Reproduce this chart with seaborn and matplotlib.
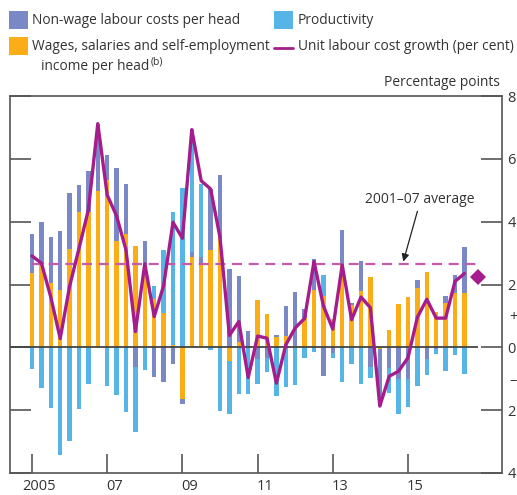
import numpy as np
import pandas as pd
import matplotlib
matplotlib.use("Agg")
import matplotlib.pyplot as plt
from matplotlib.patches import Rectangle
from matplotlib.lines import Line2D
import seaborn as sns

# Quarterly contributions to unit labour cost growth, 2005 Q1 - 2016 Q3
quarters = pd.period_range("2005Q1", "2016Q3", freq="Q").astype(str).tolist()

wages = [2.37, 2.65, 2.06, 1.83, 3.13, 4.31, 4.32, 4.98, 5.32, 3.37,
         3.61, 3.23, 2.63, 1.55, 1.08, 0.07, -1.66, 2.86, 2.62, 3.10,
         3.49, -0.42, 0.18, 0.02, 1.51, 1.07, 0.33, 0.37, 0.05, 0.93,
         1.83, 1.64, 0.90, 2.62, 1.35, 1.78, 2.25, -0.05, 0.54, 1.39,
         1.60, 1.90, 2.40, 1.11, 1.41, 1.72, 1.72]

non_wage = [1.25, 1.34, 1.46, 1.87, 1.78, 0.85, 1.29, 2.12, 0.80, 2.33,
            1.59, -0.63, 0.77, -0.95, -1.11, -0.52, -0.13, 0.19, 0.24, 1.93,
            1.99, 2.50, 2.10, 0.50, -0.37, -0.34, 0.07, 0.95, 1.72, 0.30,
            0.98, -0.92, -0.18, 1.11, 0.05, 0.97, -0.63, -1.82, -0.65, -1.00,
            -1.00, 0.24, -0.37, -0.05, 0.23, 0.59, 1.48]

productivity = [-0.69, -1.30, -1.94, -3.43, -2.98, -1.97, -1.17, 0.02, -1.24, -1.52,
                -2.06, -2.07, -0.73, 0.40, 2.01, 4.25, 5.06, 3.91, 2.34, -0.07,
                -2.03, -1.71, -1.47, -1.50, -0.81, -0.45, -1.56, -1.27, -1.19, -0.34,
                -0.15, 0.67, -0.15, -1.11, -0.52, -1.16, -0.34, 0.00, -0.79, -1.13,
                -0.91, -1.22, -0.50, -0.15, -0.74, -0.23, -0.84]

ulc_growth = [2.91, 2.68, 1.60, 0.28, 1.94, 3.15, 4.38, 7.12, 4.85, 4.18,
              3.10, 0.50, 2.66, 0.98, 1.96, 3.98, 3.47, 6.93, 5.30, 5.04,
              3.50, 0.38, 0.82, -0.96, 0.36, 0.29, -1.14, 0.08, 0.62, 0.92,
              2.73, 1.32, 0.58, 2.62, 0.88, 1.60, 1.26, -1.87, -0.92, -0.76,
              -0.33, 0.96, 1.53, 0.93, 0.93, 2.10, 2.35]

average_2001_07 = 2.66
projection_q4 = 2.25

year_labels = ["2005", "07", "09", "11", "13", "15"]

# Colours
C_NONWAGE = "#7b88c6"
C_PROD = "#56b5e6"
C_WAGES = "#fbad18"
C_ULC = "#a51d8c"
C_AVG = "#c65aab"
C_TEXT = "#333333"
C_AXIS = "#555555"

sns.set_theme(style="white")
plt.rcParams["font.family"] = ["Open Sans", "DejaVu Sans"]

W, H = 517, 495
fig = plt.figure(figsize=(W / 100, H / 100), dpi=100)
ax = fig.add_axes([10 / W, 1 - 473 / H, 492 / W, 377 / H])

x = np.arange(len(quarters))
df = pd.DataFrame({"quarter": quarters, "x": x, "wages": wages,
                   "non_wage": non_wage, "productivity": productivity,
                   "ulc": ulc_growth})

# Stacked bars: positive parts build up from zero, negative parts build down
bw = 0.45
pos_base = np.zeros(len(x))
neg_base = np.zeros(len(x))
for col, colr in [("wages", C_WAGES), ("non_wage", C_NONWAGE), ("productivity", C_PROD)]:
    v = df[col].to_numpy()
    pos = np.where(v > 0, v, 0)
    neg = np.where(v < 0, v, 0)
    ax.bar(x, pos, bottom=pos_base, width=bw, color=colr, linewidth=0, zorder=2)
    ax.bar(x, neg, bottom=neg_base, width=bw, color=colr, linewidth=0, zorder=2)
    pos_base += pos
    neg_base += neg

xmin, xmax = -2.34, 50.0
ax.set_xlim(xmin, xmax)
ax.set_ylim(-4, 8)

# Zero line and 2001-07 average
ax.hlines(0, xmin, 47.4, color="#444444", lw=1.3, zorder=3)
ax.hlines(average_2001_07, 0, 47.4, color=C_AVG, lw=1.6,
          linestyles=(0, (4.5, 3)), zorder=3)

sns.lineplot(data=df, x="x", y="ulc", color=C_ULC, lw=2.4, ax=ax, zorder=4)
ax.plot([47.4], [projection_q4], marker="D", color=C_ULC, markersize=8,
        markeredgewidth=0, zorder=5, clip_on=False)

ax.text(41.2, 4.72, "2001\u201307 average", ha="center", va="center",
        fontsize=10, color=C_TEXT)
ax.annotate("", xy=(39.5, average_2001_07 + 0.07), xytext=(41.0, 4.33),
            arrowprops=dict(arrowstyle="-|>", color="#222222", lw=0.9,
                            mutation_scale=11, shrinkA=0, shrinkB=0))

# Axes styling
for s in ax.spines.values():
    s.set_color(C_AXIS)
    s.set_linewidth(1.2)
ax.set_xlabel("")
ax.set_ylabel("")

ax.set_xticks(np.arange(0, 48, 8))
ax.set_xticklabels([])
ax.set_xticks(np.arange(0, 48, 8) + 0.8, minor=True)
ax.set_xticklabels(year_labels, minor=True)
ax.tick_params(axis="x", which="major", direction="in", length=14,
               width=1.2, color=C_AXIS, bottom=True, top=False)
ax.tick_params(axis="x", which="minor", length=0, pad=4,
               labelsize=10.5, labelcolor=C_TEXT)

ax.set_yticks([-4, -2, 0, 2, 4, 6, 8])
ax.set_yticklabels(["4", "2", "0", "2", "4", "6", "8"])
ax.set_yticks([-1, 1], minor=True)
ax.set_yticklabels(["\u2013", "+"], minor=True)
ax.tick_params(axis="y", which="major", direction="in", length=15,
               width=1.2, color=C_AXIS, left=True, right=True,
               labelleft=False, labelright=True, labelsize=10.5,
               labelcolor=C_TEXT, pad=4)
ax.tick_params(axis="y", which="minor", length=0, left=False, right=True,
               labelleft=False, labelright=True, labelsize=10.5,
               labelcolor=C_TEXT, pad=5)
ax.grid(False)

fig.text(500 / W, 1 - 83 / H, "Percentage points", ha="right", va="center",
         fontsize=9.9, color=C_TEXT)

# Key
def px(xp, yp):
    return xp / W, 1 - yp / H

for (x0, y0, colr) in [(9, 11, C_NONWAGE), (274, 11, C_PROD), (9, 37, C_WAGES)]:
    fig.patches.append(Rectangle(px(x0, y0 + 18), 19 / W, 18 / H,
                                 transform=fig.transFigure, color=colr,
                                 linewidth=0))
fig.lines.append(Line2D([274 / W, 293 / W], [1 - 48 / H, 1 - 48 / H],
                        transform=fig.transFigure, color=C_ULC, lw=2))

key_fs = 9.9
fig.text(*px(32, 21), "Non-wage labour costs per head", va="center",
         fontsize=key_fs, color=C_TEXT)
fig.text(*px(298, 21), "Productivity", va="center", fontsize=key_fs,
         color=C_TEXT)
fig.text(*px(32, 47), "Wages, salaries and self-employment", va="center",
         fontsize=key_fs, color=C_TEXT)
t = fig.text(*px(41, 66), "income per head", va="center",
             fontsize=key_fs, color=C_TEXT)
fig.canvas.draw()
bb = t.get_window_extent()
fig.text(bb.x1 / W + 1 / W, 1 - 62 / H, "(b)", va="center",
         fontsize=7.5, color=C_TEXT)
fig.text(*px(298, 47), "Unit labour cost growth (per cent)", va="center",
         fontsize=key_fs, color=C_TEXT)

fig.savefig("out.png", dpi=100)
